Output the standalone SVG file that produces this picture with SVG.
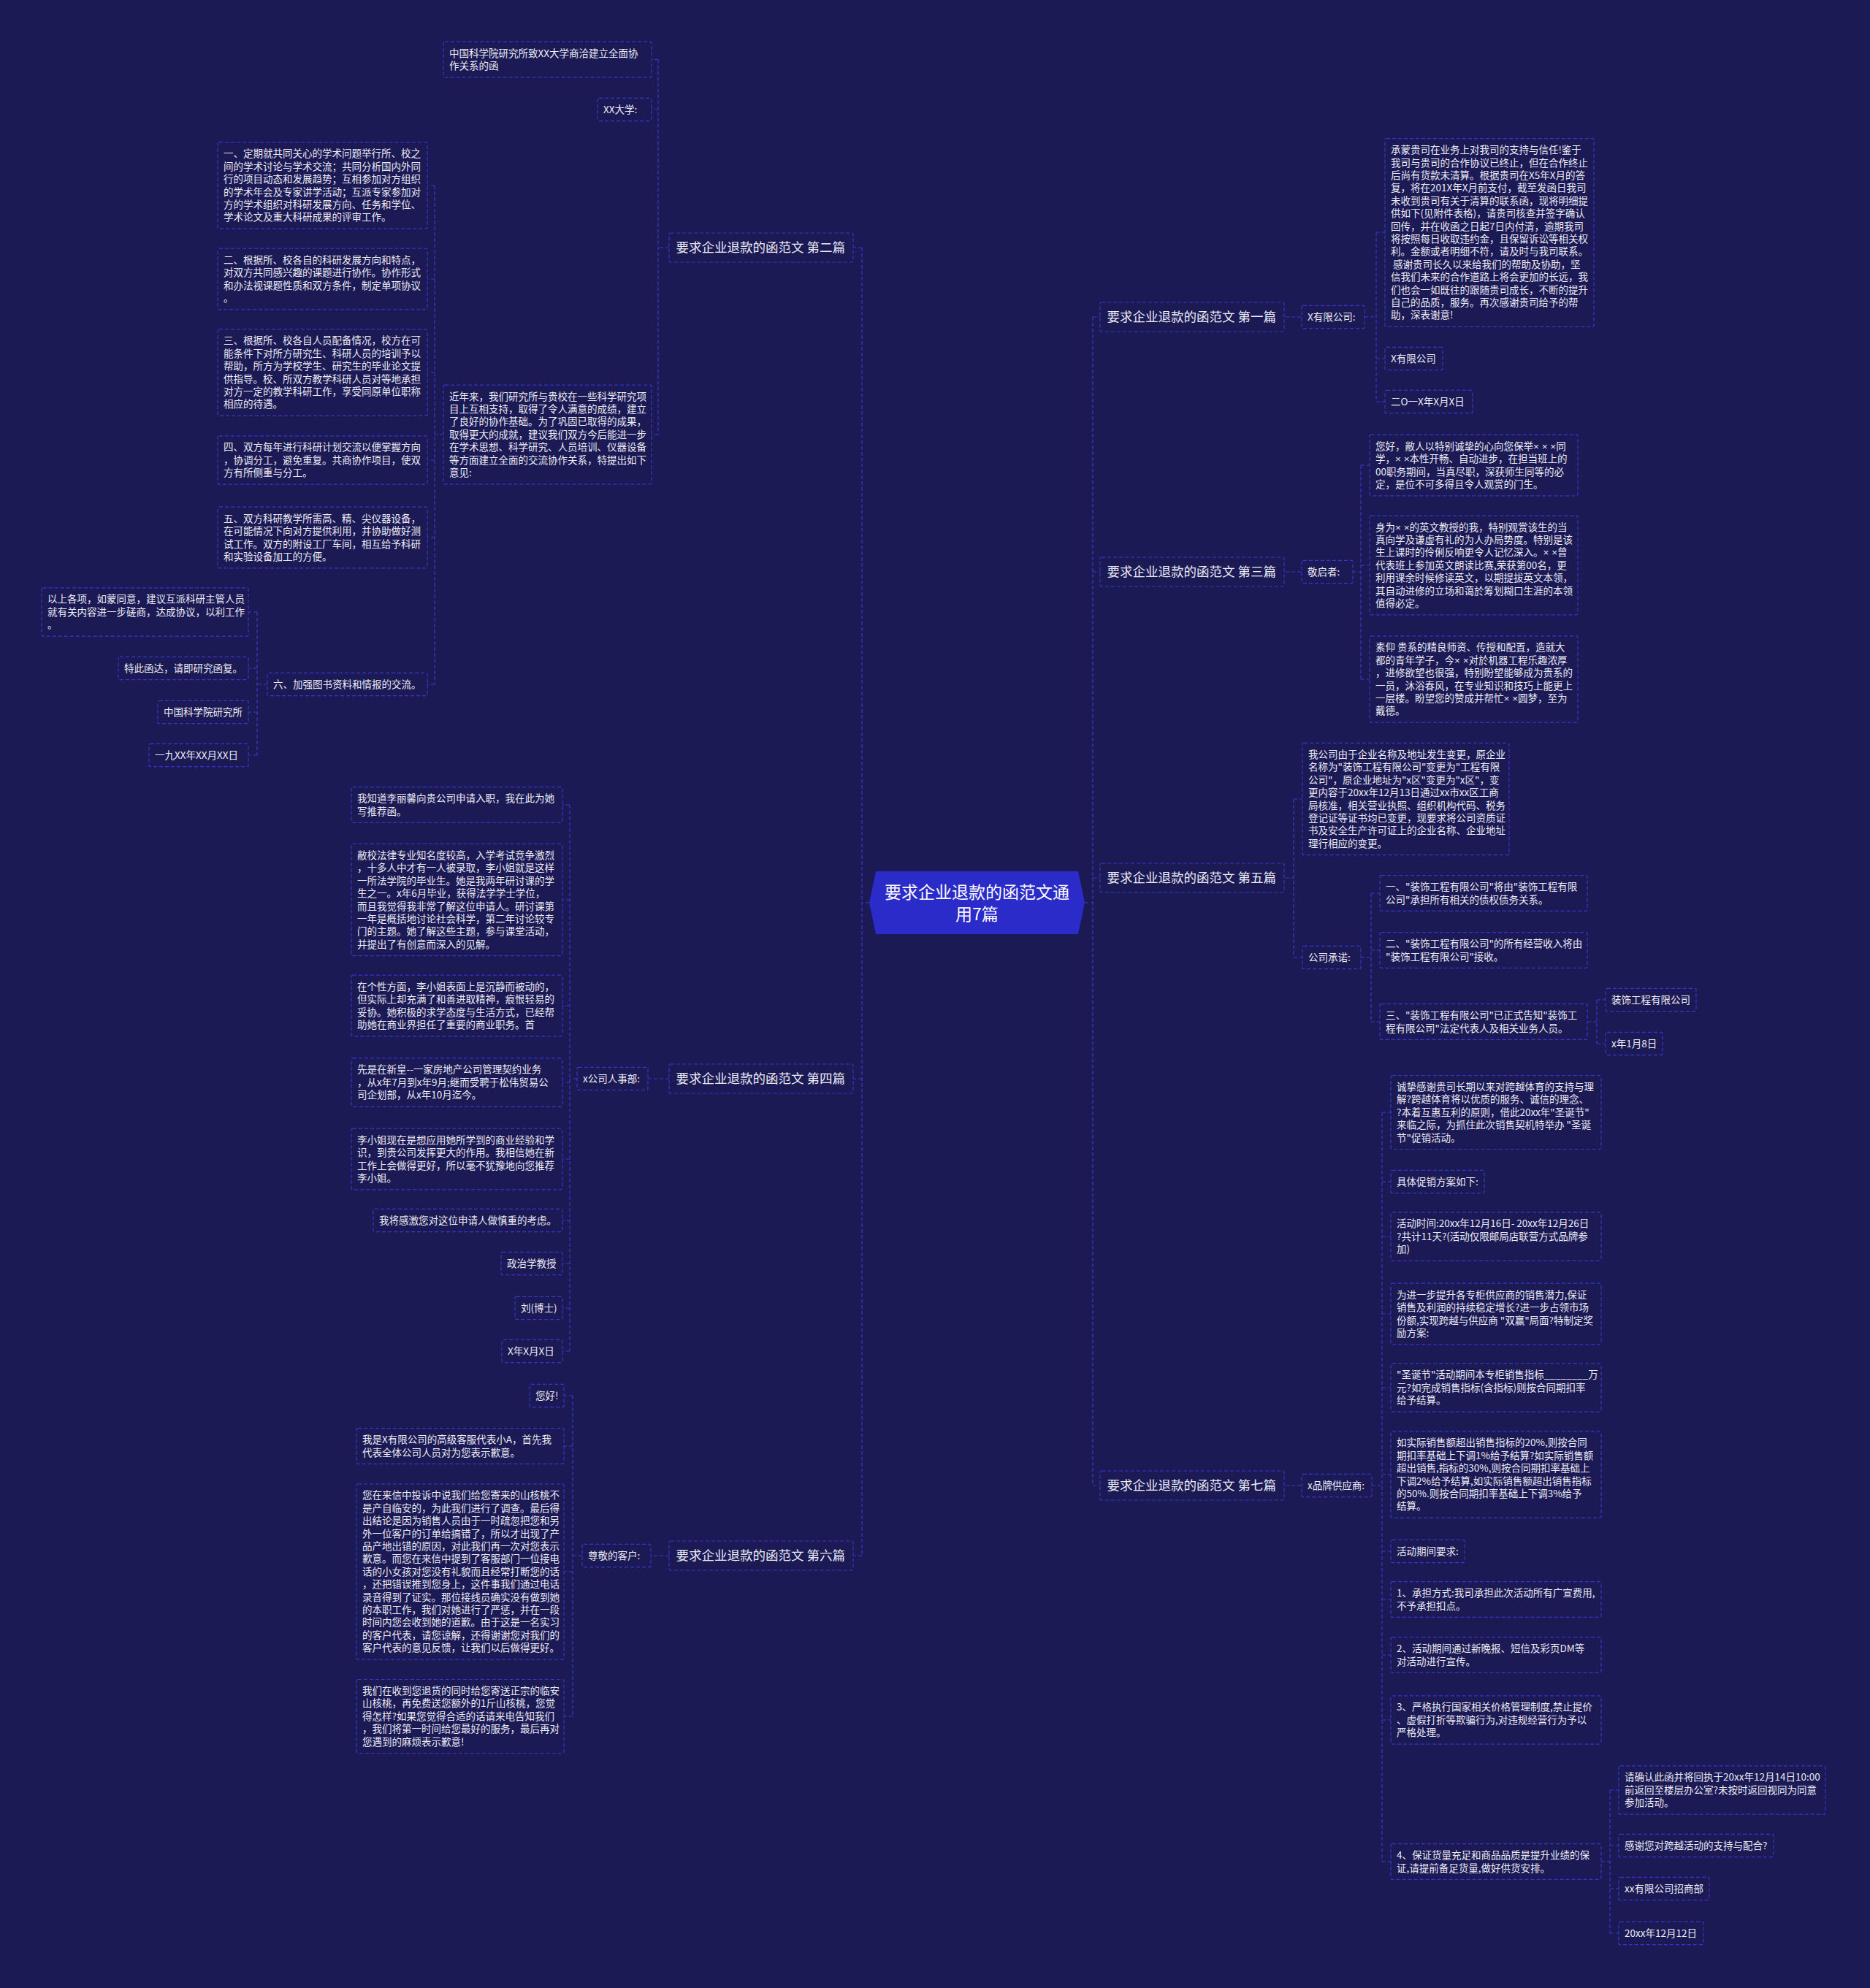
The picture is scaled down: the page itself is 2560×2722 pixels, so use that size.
<svg xmlns="http://www.w3.org/2000/svg" width="2560" height="2722" viewBox="0 0 2560 2722">
<style>
.n rect{fill:none;stroke:#3636c9;stroke-width:1.2;stroke-dasharray:5 3}
.n text{font-family:"Noto Sans CJK SC","Noto Sans",sans-serif;font-size:13.5px;fill:#ecebf6}
.b text{font-size:17.5px}
.l{font-family:"Liberation Sans","Noto Sans",sans-serif}
#edges path{fill:none;stroke:#3838cc;stroke-width:1.2;stroke-dasharray:5 3}
.c text{font-family:"Noto Sans CJK SC","Noto Sans",sans-serif;font-size:23px;fill:#ffffff}
</style>
<rect x="0" y="0" width="2560" height="2722" fill="#1b1a54"/>
<g id="edges">
<path d="M1190 1236H1180M1180 339V2130M1180 339H1168M1180 1477H1168M1180 2130H1168"/>
<path d="M1485 1236H1496M1496 434V2034M1496 434H1506M1496 783H1506M1496 1202H1506M1496 2034H1506"/>
<path d="M916 339H901M901 81.5V595M901 81.5H892M901 150H892M901 595H892"/>
<path d="M607 595H595M595 254V937M595 254H585M595 382H585M595 510H585M595 630H585M595 736H585M595 937H585"/>
<path d="M366 937H352M352 838V1034M352 838H340M352 915H340M352 975H340M352 1034H340"/>
<path d="M916 1477H887M790 1477H780M780 1102V1850M780 1102H770M780 1232H770M780 1377H770M780 1482H770M780 1587H770M780 1671H770M780 1730H770M780 1791H770M780 1850H770"/>
<path d="M916 2130H891M797 2130H784M784 1911V2350M784 1911H772M784 1980H772M784 2152H772M784 2350H772"/>
<path d="M1760 434H1782M1868 434H1884M1884 318V550M1884 318H1896M1884 491H1896M1884 550H1896"/>
<path d="M1760 783H1782M1852 783H1863M1863 637V930M1863 637H1875M1863 774H1875M1863 930H1875"/>
<path d="M1760 1202H1771M1771 1094V1311M1771 1094H1783M1771 1311H1783M1863 1311H1877M1877 1223V1399M1877 1223H1889M1877 1301H1889M1877 1399H1889M2173 1399H2186M2186 1369V1429M2186 1369H2198M2186 1429H2198"/>
<path d="M1760 2034H1782M1878 2034H1892M1892 1523V2549M1892 1523H1904M1892 1618H1904M1892 1693H1904M1892 1799H1904M1892 1900H1904M1892 2019H1904M1892 2124H1904M1892 2190H1904M1892 2266H1904M1892 2355H1904M1892 2549H1904M2192 2549H2204M2204 2451V2647M2204 2451H2216M2204 2527H2216M2204 2586H2216M2204 2647H2216"/>
</g>
<g id="center" class="c">
<polygon points="1190,1236 1199,1193 1476,1193 1485,1236 1476,1279 1199,1279" fill="#2b2bc9"/>
<text x="1337.5" y="1230" text-anchor="middle">要求企业退款的函范文通</text>
<text x="1337.5" y="1260" text-anchor="middle">用7篇</text>
</g>
<g id="b2" class="n b"><rect x="916" y="319" width="252" height="40" rx="2"/><text x="925.5" y="345.3">要求企业退款的函范文 第二篇</text></g>
<g id="b4" class="n b"><rect x="916" y="1457" width="252" height="40" rx="2"/><text x="925.5" y="1483.3">要求企业退款的函范文 第四篇</text></g>
<g id="b6" class="n b"><rect x="916" y="2110" width="252" height="40" rx="2"/><text x="925.5" y="2136.3">要求企业退款的函范文 第六篇</text></g>
<g id="b1" class="n b"><rect x="1506" y="414" width="252" height="40" rx="2"/><text x="1515.5" y="440.3">要求企业退款的函范文 第一篇</text></g>
<g id="b3" class="n b"><rect x="1506" y="763" width="252" height="40" rx="2"/><text x="1515.5" y="789.3">要求企业退款的函范文 第三篇</text></g>
<g id="b5" class="n b"><rect x="1506" y="1182" width="252" height="40" rx="2"/><text x="1515.5" y="1208.3">要求企业退款的函范文 第五篇</text></g>
<g id="b7" class="n b"><rect x="1506" y="2014" width="252" height="40" rx="2"/><text x="1515.5" y="2040.3">要求企业退款的函范文 第七篇</text></g>

<g id="l2-1" class="n"><rect x="607" y="57.1" width="285" height="48.8" rx="2"/><text x="615" y="77.6"><tspan x="615" dy="0">中国科学院研究所致XX大学商洽建立全面协</tspan><tspan x="615" dy="17.4">作关系的函</tspan></text></g>
<g id="l2-2" class="n"><rect x="818" y="134.3" width="74" height="31.4" rx="2"/><text x="826" y="154.8">XX大学:</text></g>
<g id="l2-3" class="n"><rect x="607" y="527.1" width="285" height="135.8" rx="2"/><text x="615" y="547.6"><tspan x="615" dy="0">近年来，我们研究所与贵校在一些科学研究项</tspan><tspan x="615" dy="17.4">目上互相支持，取得了令人满意的成绩，建立</tspan><tspan x="615" dy="17.4">了良好的协作基础。为了巩固已取得的成果，</tspan><tspan x="615" dy="17.4">取得更大的成就，建议我们双方今后能进一步</tspan><tspan x="615" dy="17.4">在学术思想、科学研究、人员培训、仪器设备</tspan><tspan x="615" dy="17.4">等方面建立全面的交流协作关系，特提出如下</tspan><tspan x="615" dy="17.4">意见:</tspan></text></g>
<g id="l2-a" class="n"><rect x="298" y="194.8" width="287" height="118.4" rx="2"/><text x="306" y="215.3"><tspan x="306" dy="0">一、定期就共同关心的学术问题举行所、校之</tspan><tspan x="306" dy="17.4">间的学术讨论与学术交流；共同分析国内外同</tspan><tspan x="306" dy="17.4">行的项目动态和发展趋势；互相参加对方组织</tspan><tspan x="306" dy="17.4">的学术年会及专家讲学活动；互派专家参加对</tspan><tspan x="306" dy="17.4">方的学术组织对科研发展方向、任务和学位、</tspan><tspan x="306" dy="17.4">学术论文及重大科研成果的评审工作。</tspan></text></g>
<g id="l2-b" class="n"><rect x="298" y="340.2" width="287" height="83.6" rx="2"/><text x="306" y="360.7"><tspan x="306" dy="0">二、根据所、校各自的科研发展方向和特点，</tspan><tspan x="306" dy="17.4">对双方共同感兴趣的课题进行协作。协作形式</tspan><tspan x="306" dy="17.4">和办法视课题性质和双方条件，制定单项协议</tspan><tspan x="306" dy="17.4">。</tspan></text></g>
<g id="l2-c" class="n"><rect x="298" y="450.8" width="287" height="118.4" rx="2"/><text x="306" y="471.3"><tspan x="306" dy="0">三、根据所、校各自人员配备情况，校方在可</tspan><tspan x="306" dy="17.4">能条件下对所方研究生、科研人员的培训予以</tspan><tspan x="306" dy="17.4">帮助，所方为学校学生、研究生的毕业论文提</tspan><tspan x="306" dy="17.4">供指导。校、所双方教学科研人员对等地承担</tspan><tspan x="306" dy="17.4">对方一定的教学科研工作，享受同原单位职称</tspan><tspan x="306" dy="17.4">相应的待遇。</tspan></text></g>
<g id="l2-d" class="n"><rect x="298" y="596.9" width="287" height="66.2" rx="2"/><text x="306" y="617.4"><tspan x="306" dy="0">四、双方每年进行科研计划交流以便掌握方向</tspan><tspan x="306" dy="17.4">，协调分工，避免重复。共商协作项目，使双</tspan><tspan x="306" dy="17.4">方有所侧重与分工。</tspan></text></g>
<g id="l2-e" class="n"><rect x="298" y="694.2" width="287" height="83.6" rx="2"/><text x="306" y="714.7"><tspan x="306" dy="0">五、双方科研教学所需高、精、尖仪器设备，</tspan><tspan x="306" dy="17.4">在可能情况下向对方提供利用，并协助做好测</tspan><tspan x="306" dy="17.4">试工作。双方的附设工厂车间，相互给予科研</tspan><tspan x="306" dy="17.4">和实验设备加工的方便。</tspan></text></g>
<g id="l2-f" class="n"><rect x="366" y="921.3" width="219" height="31.4" rx="2"/><text x="374" y="941.8">六、加强图书资料和情报的交流。</text></g>
<g id="l2-f1" class="n"><rect x="57" y="804.9" width="283" height="66.2" rx="2"/><text x="65" y="825.4"><tspan x="65" dy="0">以上各项，如蒙同意，建议互派科研主管人员</tspan><tspan x="65" dy="17.4">就有关内容进一步磋商，达成协议，以利工作</tspan><tspan x="65" dy="17.4">。</tspan></text></g>
<g id="l2-f2" class="n"><rect x="162" y="899.3" width="178" height="31.4" rx="2"/><text x="170" y="919.8">特此函达，请即研究函复。</text></g>
<g id="l2-f3" class="n"><rect x="216" y="959.3" width="124" height="31.4" rx="2"/><text x="224" y="979.8">中国科学院研究所</text></g>
<g id="l2-f4" class="n"><rect x="204" y="1018.3" width="136" height="31.4" rx="2"/><text x="212" y="1038.8">一九XX年XX月XX日</text></g>

<g id="l4" class="n"><rect x="790" y="1461.3" width="97" height="31.4" rx="2"/><text x="798" y="1481.8">x公司人事部:</text></g>
<g id="l4-1" class="n"><rect x="481" y="1077.6" width="289" height="48.8" rx="2"/><text x="489" y="1098.1"><tspan x="489" dy="0">我知道李丽馨向贵公司申请入职，我在此为她</tspan><tspan x="489" dy="17.4">写推荐函。</tspan></text></g>
<g id="l4-2" class="n"><rect x="481" y="1155.4" width="289" height="153.2" rx="2"/><text x="489" y="1175.9"><tspan x="489" dy="0">敝校法律专业知名度较高，入学考试竞争激烈</tspan><tspan x="489" dy="17.4">，十多人中才有一人被录取，李小姐就是这样</tspan><tspan x="489" dy="17.4">一所法学院的毕业生。她是我两年研讨课的学</tspan><tspan x="489" dy="17.4">生之一。x年6月毕业，获得法学学士学位，</tspan><tspan x="489" dy="17.4">而且我觉得我非常了解这位申请人。研讨课第</tspan><tspan x="489" dy="17.4">一年是概括地讨论社会科学，第二年讨论较专</tspan><tspan x="489" dy="17.4">门的主题。她了解这些主题，参与课堂活动，</tspan><tspan x="489" dy="17.4">并提出了有创意而深入的见解。</tspan></text></g>
<g id="l4-3" class="n"><rect x="481" y="1335.2" width="289" height="83.6" rx="2"/><text x="489" y="1355.7"><tspan x="489" dy="0">在个性方面，李小姐表面上是沉静而被动的，</tspan><tspan x="489" dy="17.4">但实际上却充满了和善进取精神，痕恨轻易的</tspan><tspan x="489" dy="17.4">妥协。她积极的求学态度与生活方式，已经帮</tspan><tspan x="489" dy="17.4">助她在商业界担任了重要的商业职务。首</tspan></text></g>
<g id="l4-4" class="n"><rect x="481" y="1448.9" width="289" height="66.2" rx="2"/><text x="489" y="1469.4"><tspan x="489" dy="0">先是在新皇--一家房地产公司管理契约业务</tspan><tspan x="489" dy="17.4">，从x年7月到x年9月;继而受聘于松伟贸易公</tspan><tspan x="489" dy="17.4">司企划部，从x年10月迄今。</tspan></text></g>
<g id="l4-5" class="n"><rect x="481" y="1545.2" width="289" height="83.6" rx="2"/><text x="489" y="1565.7"><tspan x="489" dy="0">李小姐现在是想应用她所学到的商业经验和学</tspan><tspan x="489" dy="17.4">识，到贵公司发挥更大的作用。我相信她在新</tspan><tspan x="489" dy="17.4">工作上会做得更好，所以毫不犹豫地向您推荐</tspan><tspan x="489" dy="17.4">李小姐。</tspan></text></g>
<g id="l4-6" class="n"><rect x="511" y="1655.3" width="259" height="31.4" rx="2"/><text x="519" y="1675.8">我将感激您对这位申请人做慎重的考虑。</text></g>
<g id="l4-7" class="n"><rect x="686" y="1714.3" width="84" height="31.4" rx="2"/><text x="694" y="1734.8">政治学教授</text></g>
<g id="l4-8" class="n"><rect x="705" y="1775.3" width="65" height="31.4" rx="2"/><text x="713" y="1795.8">刘(博士)</text></g>
<g id="l4-9" class="n"><rect x="687" y="1834.3" width="83" height="31.4" rx="2"/><text x="695" y="1854.8">X年X月X日</text></g>

<g id="l6" class="n"><rect x="797" y="2114.3" width="94" height="31.4" rx="2"/><text x="805" y="2134.8">尊敬的客户:</text></g>
<g id="l6-1" class="n"><rect x="725" y="1895.3" width="47" height="31.4" rx="2"/><text x="733" y="1915.8">您好!</text></g>
<g id="l6-2" class="n"><rect x="488" y="1955.6" width="284" height="48.8" rx="2"/><text x="496" y="1976.1"><tspan x="496" dy="0">我是X有限公司的高级客服代表小A，首先我</tspan><tspan x="496" dy="17.4">代表全体公司人员对为您表示歉意。</tspan></text></g>
<g id="l6-3" class="n"><rect x="488" y="2031.9" width="284" height="240.2" rx="2"/><text x="496" y="2052.4"><tspan x="496" dy="0">您在来信中投诉中说我们给您寄来的山核桃不</tspan><tspan x="496" dy="17.4">是产自临安的，为此我们进行了调查。最后得</tspan><tspan x="496" dy="17.4">出结论是因为销售人员由于一时疏忽把您和另</tspan><tspan x="496" dy="17.4">外一位客户的订单给搞错了，所以才出现了产</tspan><tspan x="496" dy="17.4">品产地出错的原因，对此我们再一次对您表示</tspan><tspan x="496" dy="17.4">歉意。而您在来信中提到了客服部门一位接电</tspan><tspan x="496" dy="17.4">话的小女孩对您没有礼貌而且经常打断您的话</tspan><tspan x="496" dy="17.4">，还把错误推到您身上，这件事我们通过电话</tspan><tspan x="496" dy="17.4">录音得到了证实。那位接线员确实没有做到她</tspan><tspan x="496" dy="17.4">的本职工作，我们对她进行了严惩，并在一段</tspan><tspan x="496" dy="17.4">时间内您会收到她的道歉。由于这是一名实习</tspan><tspan x="496" dy="17.4">的客户代表，请您谅解，还得谢谢您对我们的</tspan><tspan x="496" dy="17.4">客户代表的意见反馈，让我们以后做得更好。</tspan></text></g>
<g id="l6-4" class="n"><rect x="488" y="2299.5" width="284" height="101" rx="2"/><text x="496" y="2320"><tspan x="496" dy="0">我们在收到您退货的同时给您寄送正宗的临安</tspan><tspan x="496" dy="17.4">山核桃，再免费送您额外的1斤山核桃，您觉</tspan><tspan x="496" dy="17.4">得怎样?如果您觉得合适的话请来电告知我们</tspan><tspan x="496" dy="17.4">，我们将第一时间给您最好的服务，最后再对</tspan><tspan x="496" dy="17.4">您遇到的麻烦表示歉意!</tspan></text></g>

<g id="r1" class="n"><rect x="1782" y="418.3" width="86" height="31.4" rx="2"/><text x="1790" y="438.8">X有限公司:</text></g>
<g id="r1-1" class="n"><rect x="1896" y="189.7" width="286" height="257.6" rx="2"/><text x="1904" y="210.2"><tspan x="1904" dy="0">承蒙贵司在业务上对我司的支持与信任!鉴于</tspan><tspan x="1904" dy="17.4">我司与贵司的合作协议已终止，但在合作终止</tspan><tspan x="1904" dy="17.4">后尚有货款未清算。根据贵司在X5年X月的答</tspan><tspan x="1904" dy="17.4">复，将在201X年X月前支付，截至发函日我司</tspan><tspan x="1904" dy="17.4">未收到贵司有关于清算的联系函，现将明细提</tspan><tspan x="1904" dy="17.4">供如下(见附件表格)，请贵司核查并签字确认</tspan><tspan x="1904" dy="17.4">回传，并在收函之日起7日内付清，逾期我司</tspan><tspan x="1904" dy="17.4">将按照每日收取违约金，且保留诉讼等相关权</tspan><tspan x="1904" dy="17.4">利。金额或者明细不符，请及时与我司联系。</tspan><tspan x="1904" dy="17.4">&#160;感谢贵司长久以来给我们的帮助及协助，坚</tspan><tspan x="1904" dy="17.4">信我们未来的合作道路上将会更加的长远，我</tspan><tspan x="1904" dy="17.4">们也会一如既往的跟随贵司成长，不断的提升</tspan><tspan x="1904" dy="17.4">自己的品质，服务。再次感谢贵司给予的帮</tspan><tspan x="1904" dy="17.4">助，深表谢意!</tspan></text></g>
<g id="r1-2" class="n"><rect x="1896" y="475.3" width="79" height="31.4" rx="2"/><text x="1904" y="495.8">X有限公司</text></g>
<g id="r1-3" class="n"><rect x="1896" y="534.3" width="120" height="31.4" rx="2"/><text x="1904" y="554.8">二O一X年X月X日</text></g>

<g id="r3" class="n"><rect x="1782" y="767.3" width="70" height="31.4" rx="2"/><text x="1790" y="787.8">敬启者:</text></g>
<g id="r3-1" class="n"><rect x="1875" y="595.2" width="285" height="83.6" rx="2"/><text x="1883" y="615.7"><tspan x="1883" dy="0">您好，敝人以特别诚挚的心向您保举<tspan class="l">× × ×</tspan>同</tspan><tspan x="1883" dy="17.4">学，<tspan class="l">× ×</tspan>本性开畅、自动进步，在担当班上的</tspan><tspan x="1883" dy="17.4">00职务期间，当真尽职，深获师生同等的必</tspan><tspan x="1883" dy="17.4">定，是位不可多得且令人观赏的门生。</tspan></text></g>
<g id="r3-2" class="n"><rect x="1875" y="706.1" width="285" height="135.8" rx="2"/><text x="1883" y="726.6"><tspan x="1883" dy="0">身为<tspan class="l">× ×</tspan>的英文教授的我，特别观赏该生的当</tspan><tspan x="1883" dy="17.4">真向学及谦虚有礼的为人办局势度。特别是该</tspan><tspan x="1883" dy="17.4">生上课时的伶俐反响更令人记忆深入。<tspan class="l">× ×</tspan>曾</tspan><tspan x="1883" dy="17.4">代表班上参加英文朗读比赛,荣获第00名，更</tspan><tspan x="1883" dy="17.4">利用课余时候修读英文，以期提拔英文本领，</tspan><tspan x="1883" dy="17.4">其自动进修的立场和蔼於筹划糊口生涯的本领</tspan><tspan x="1883" dy="17.4">值得必定。</tspan></text></g>
<g id="r3-3" class="n"><rect x="1875" y="870.8" width="285" height="118.4" rx="2"/><text x="1883" y="891.3"><tspan x="1883" dy="0">素仰 贵系的精良师资、传授和配置，造就大</tspan><tspan x="1883" dy="17.4">都的青年学子，今<tspan class="l">× ×</tspan>对於机器工程乐趣浓厚</tspan><tspan x="1883" dy="17.4">，进修欲望也很强，特别盼望能够成为贵系的</tspan><tspan x="1883" dy="17.4">一员，沐浴春风，在专业知识和技巧上能更上</tspan><tspan x="1883" dy="17.4">一层楼。盼望您的赞成并帮忙<tspan class="l">× ×</tspan>圆梦，至为</tspan><tspan x="1883" dy="17.4">戴德。</tspan></text></g>

<g id="r5-1" class="n"><rect x="1783" y="1017.4" width="283" height="153.2" rx="2"/><text x="1791" y="1037.9"><tspan x="1791" dy="0">我公司由于企业名称及地址发生变更，原企业</tspan><tspan x="1791" dy="17.4">名称为"装饰工程有限公司"变更为"工程有限</tspan><tspan x="1791" dy="17.4">公司"，原企业地址为"x区"变更为"x区"，变</tspan><tspan x="1791" dy="17.4">更内容于20xx年12月13日通过xx市xx区工商</tspan><tspan x="1791" dy="17.4">局核准，相关营业执照、组织机构代码、税务</tspan><tspan x="1791" dy="17.4">登记证等证书均已变更，现要求将公司资质证</tspan><tspan x="1791" dy="17.4">书及安全生产许可证上的企业名称、企业地址</tspan><tspan x="1791" dy="17.4">理行相应的变更。</tspan></text></g>
<g id="r5-2" class="n"><rect x="1783" y="1295.3" width="80" height="31.4" rx="2"/><text x="1791" y="1315.8">公司承诺:</text></g>
<g id="r5-2a" class="n"><rect x="1889" y="1198.6" width="284" height="48.8" rx="2"/><text x="1897" y="1219.1"><tspan x="1897" dy="0">一、"装饰工程有限公司"将由"装饰工程有限</tspan><tspan x="1897" dy="17.4">公司"承担所有相关的债权债务关系。</tspan></text></g>
<g id="r5-2b" class="n"><rect x="1889" y="1276.6" width="284" height="48.8" rx="2"/><text x="1897" y="1297.1"><tspan x="1897" dy="0">二、"装饰工程有限公司"的所有经营收入将由</tspan><tspan x="1897" dy="17.4">"装饰工程有限公司"接收。</tspan></text></g>
<g id="r5-2c" class="n"><rect x="1889" y="1374.6" width="284" height="48.8" rx="2"/><text x="1897" y="1395.1"><tspan x="1897" dy="0">三、"装饰工程有限公司"已正式告知"装饰工</tspan><tspan x="1897" dy="17.4">程有限公司"法定代表人及相关业务人员。</tspan></text></g>
<g id="r5-2c1" class="n"><rect x="2198" y="1353.3" width="124" height="31.4" rx="2"/><text x="2206" y="1373.8">装饰工程有限公司</text></g>
<g id="r5-2c2" class="n"><rect x="2198" y="1413.3" width="78" height="31.4" rx="2"/><text x="2206" y="1433.8">x年1月8日</text></g>

<g id="r7" class="n"><rect x="1782" y="2018.3" width="96" height="31.4" rx="2"/><text x="1790" y="2038.8">x品牌供应商:</text></g>
<g id="r7-1" class="n"><rect x="1904" y="1472.5" width="288" height="101" rx="2"/><text x="1912" y="1493"><tspan x="1912" dy="0">诚挚感谢贵司长期以来对跨越体育的支持与理</tspan><tspan x="1912" dy="17.4">解?跨越体育将以优质的服务、诚信的理念、</tspan><tspan x="1912" dy="17.4">?本着互惠互利的原则，借此20xx年"圣诞节"</tspan><tspan x="1912" dy="17.4">来临之际，为抓住此次销售契机特举办 "圣诞</tspan><tspan x="1912" dy="17.4">节"促销活动。</tspan></text></g>
<g id="r7-2" class="n"><rect x="1904" y="1602.3" width="128" height="31.4" rx="2"/><text x="1912" y="1622.8">具体促销方案如下:</text></g>
<g id="r7-3" class="n"><rect x="1904" y="1659.9" width="288" height="66.2" rx="2"/><text x="1912" y="1680.4"><tspan x="1912" dy="0">活动时间:20xx年12月16日- 20xx年12月26日</tspan><tspan x="1912" dy="17.4">?共计11天?(活动仅限邮局店联营方式品牌参</tspan><tspan x="1912" dy="17.4">加)</tspan></text></g>
<g id="r7-4" class="n"><rect x="1904" y="1757.2" width="288" height="83.6" rx="2"/><text x="1912" y="1777.7"><tspan x="1912" dy="0">为进一步提升各专柜供应商的销售潜力,保证</tspan><tspan x="1912" dy="17.4">销售及利润的持续稳定增长?进一步占领市场</tspan><tspan x="1912" dy="17.4">份额,实现跨越与供应商 "双赢"局面?特制定奖</tspan><tspan x="1912" dy="17.4">励方案:</tspan></text></g>
<g id="r7-5" class="n"><rect x="1904" y="1866.9" width="288" height="66.2" rx="2"/><text x="1912" y="1887.4"><tspan x="1912" dy="0">"圣诞节"活动期间本专柜销售指标________万</tspan><tspan x="1912" dy="17.4">元?如完成销售指标(含指标)则按合同期扣率</tspan><tspan x="1912" dy="17.4">给予结算。</tspan></text></g>
<g id="r7-6" class="n"><rect x="1904" y="1959.8" width="288" height="118.4" rx="2"/><text x="1912" y="1980.3"><tspan x="1912" dy="0">如实际销售额超出销售指标的20%,则按合同</tspan><tspan x="1912" dy="17.4">期扣率基础上下调1%给予结算?如实际销售额</tspan><tspan x="1912" dy="17.4">超出销售,指标的30%,则按合同期扣率基础上</tspan><tspan x="1912" dy="17.4">下调2%给予结算,如实际销售额超出销售指标</tspan><tspan x="1912" dy="17.4">的50%.则按合同期扣率基础上下调3%给予</tspan><tspan x="1912" dy="17.4">结算。</tspan></text></g>
<g id="r7-7" class="n"><rect x="1904" y="2108.3" width="101" height="31.4" rx="2"/><text x="1912" y="2128.8">活动期间要求:</text></g>
<g id="r7-8" class="n"><rect x="1904" y="2165.6" width="288" height="48.8" rx="2"/><text x="1912" y="2186.1"><tspan x="1912" dy="0">1、承担方式:我司承担此次活动所有广宣费用,</tspan><tspan x="1912" dy="17.4">不予承担扣点。</tspan></text></g>
<g id="r7-9" class="n"><rect x="1904" y="2241.6" width="288" height="48.8" rx="2"/><text x="1912" y="2262.1"><tspan x="1912" dy="0">2、活动期间通过新晚报、短信及彩页DM等</tspan><tspan x="1912" dy="17.4">对活动进行宣传。</tspan></text></g>
<g id="r7-10" class="n"><rect x="1904" y="2321.9" width="288" height="66.2" rx="2"/><text x="1912" y="2342.4"><tspan x="1912" dy="0">3、严格执行国家相关价格管理制度,禁止提价</tspan><tspan x="1912" dy="17.4">、虚假打折等欺骗行为,对违规经营行为予以</tspan><tspan x="1912" dy="17.4">严格处理。</tspan></text></g>
<g id="r7-11" class="n"><rect x="1904" y="2524.6" width="288" height="48.8" rx="2"/><text x="1912" y="2545.1"><tspan x="1912" dy="0">4、保证货量充足和商品品质是提升业绩的保</tspan><tspan x="1912" dy="17.4">证,请提前备足货量,做好供货安排。</tspan></text></g>
<g id="r7-11a" class="n"><rect x="2216" y="2417.9" width="283" height="66.2" rx="2"/><text x="2224" y="2438.4"><tspan x="2224" dy="0">请确认此函并将回执于20xx年12月14日10:00</tspan><tspan x="2224" dy="17.4">前返回至楼层办公室?未按时返回视同为同意</tspan><tspan x="2224" dy="17.4">参加活动。</tspan></text></g>
<g id="r7-11b" class="n"><rect x="2216" y="2511.3" width="212" height="31.4" rx="2"/><text x="2224" y="2531.8">感谢您对跨越活动的支持与配合?</text></g>
<g id="r7-11c" class="n"><rect x="2216" y="2570.3" width="124" height="31.4" rx="2"/><text x="2224" y="2590.8">xx有限公司招商部</text></g>
<g id="r7-11d" class="n"><rect x="2216" y="2631.3" width="116" height="31.4" rx="2"/><text x="2224" y="2651.8">20xx年12月12日</text></g>
</svg>
